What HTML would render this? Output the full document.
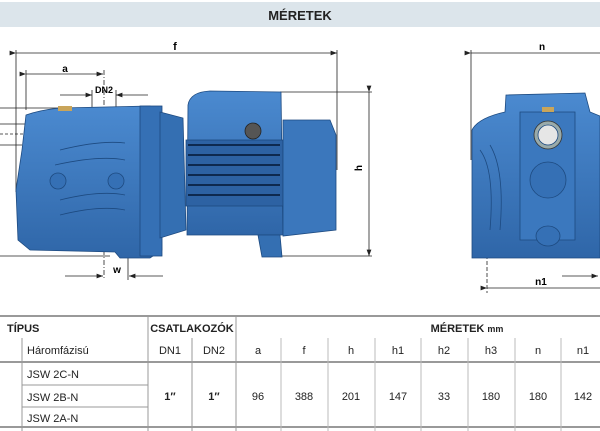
<!DOCTYPE html>
<html><head><meta charset="utf-8"><style>
html,body{margin:0;padding:0;background:#fff}
svg{display:block}
text{font-family:"Liberation Sans",sans-serif}
</style></head><body>
<svg width="600" height="431" viewBox="0 0 600 431" xmlns="http://www.w3.org/2000/svg">
<defs>
<marker id="ar" markerWidth="8" markerHeight="6" refX="8" refY="3" orient="auto"><path d="M0,0 L8,3 L0,6 z" fill="#222"/></marker>
<linearGradient id="bl" x1="0" y1="0" x2="0" y2="1"><stop offset="0" stop-color="#4b8ad0"/><stop offset="1" stop-color="#2f66a8"/></linearGradient>
</defs>
<rect x="0" y="2" width="600" height="25" fill="#dce5eb"/>
<text x="300" y="20" font-size="13" font-weight="bold" text-anchor="middle" fill="#222">MÉRETEK</text>

<g stroke="#222" stroke-width="0.8" fill="none">
<line x1="16" y1="53" x2="337" y2="53" marker-start="url(#ar)" marker-end="url(#ar)"/>
<line x1="16" y1="50" x2="16" y2="192"/>
<line x1="337" y1="50" x2="337" y2="170"/>
<line x1="26" y1="74" x2="103" y2="74" marker-start="url(#ar)" marker-end="url(#ar)"/>
<line x1="26" y1="70" x2="26" y2="110"/>
<line x1="60" y1="95" x2="92" y2="95" marker-end="url(#ar)"/>
<line x1="148" y1="95" x2="116" y2="95" marker-end="url(#ar)"/>
<line x1="92" y1="90" x2="92" y2="108"/>
<line x1="116" y1="90" x2="116" y2="108"/>
<line x1="104" y1="70" x2="104" y2="280" stroke-dasharray="5,2,1,2"/>
<line x1="128" y1="230" x2="128" y2="280"/>
<line x1="65" y1="276" x2="103" y2="276" marker-end="url(#ar)"/>
<line x1="163" y1="276" x2="129" y2="276" marker-end="url(#ar)"/>
<line x1="280" y1="92" x2="372" y2="92"/>
<line x1="280" y1="256" x2="372" y2="256"/>
<line x1="369" y1="92" x2="369" y2="256" marker-start="url(#ar)" marker-end="url(#ar)"/>
<line x1="0" y1="108" x2="60" y2="108"/><line x1="0" y1="124" x2="25" y2="124"/>
<line x1="0" y1="134" x2="55" y2="134" stroke-dasharray="3,2"/><line x1="0" y1="145" x2="22" y2="145"/>
<line x1="0" y1="256" x2="110" y2="256"/>
</g>
<text x="175" y="50" font-size="11" font-weight="bold" text-anchor="middle">f</text>
<text x="65" y="72" font-size="10" font-weight="bold" text-anchor="middle">a</text>
<text x="104" y="93" font-size="9" font-weight="bold" text-anchor="middle">DN2</text>
<text x="117" y="273" font-size="10" font-weight="bold" text-anchor="middle">w</text>
<text x="366" y="172" font-size="10" font-weight="bold" text-anchor="middle" transform="rotate(-90 362 172)">h</text>

<g stroke="#1d4a80" stroke-width="0.8">
<path d="M26,115 Q40,110 60,108 L150,106 L160,110 L162,250 L150,258 L120,258 L115,252 L30,250 L18,240 L16,190 L22,150 Z" fill="url(#bl)"/>
<rect x="140" y="106" width="22" height="150" fill="#3570b5"/>
<path d="M160,112 L183,118 L186,230 L160,238 Z" fill="#346fb2"/>
<path d="M188,105 Q190,92 210,91 L281,92 L283,235 L187,235 Z" fill="url(#bl)"/>
<rect x="186" y="140" width="97" height="66" fill="#2d62a3"/>
<g stroke="#0e2a50" stroke-width="2"><line x1="188" y1="145" x2="280" y2="145"/><line x1="188" y1="155" x2="280" y2="155"/><line x1="188" y1="165" x2="280" y2="165"/><line x1="188" y1="175" x2="280" y2="175"/><line x1="188" y1="185" x2="280" y2="185"/><line x1="188" y1="195" x2="280" y2="195"/></g>
<path d="M283,120 L330,120 L336,135 L336,230 L283,236 Z" fill="#3b77bc"/>
<path d="M258,235 L280,235 L282,257 L262,257 Z" fill="#346fb2"/>
<circle cx="253" cy="131" r="8" fill="#555" stroke="#222"/>
<circle cx="58" cy="181" r="8" fill="#3570b5"/><circle cx="116" cy="181" r="8" fill="#3570b5"/>
<path d="M60,150 Q100,140 125,143 M55,165 Q100,155 125,160 M60,200 Q100,190 125,195 M60,215 Q100,205 125,210" fill="none" stroke="#1d4a80"/>
</g>
<rect x="58" y="106" width="14" height="5" fill="#c9a55a"/>

<g stroke="#222" stroke-width="0.8" fill="none">
<line x1="471" y1="53" x2="600" y2="53" marker-start="url(#ar)"/>
<line x1="471" y1="50" x2="471" y2="160"/>
<line x1="487" y1="255" x2="487" y2="293" stroke-dasharray="4,2"/>
<line x1="487" y1="288" x2="600" y2="288" marker-start="url(#ar)"/>
<line x1="562" y1="276" x2="598" y2="276" marker-end="url(#ar)"/>
</g>
<text x="542" y="50" font-size="10" font-weight="bold" text-anchor="middle">n</text>
<text x="541" y="285" font-size="10" font-weight="bold" text-anchor="middle">n1</text>
<g stroke="#1d4a80" stroke-width="0.8">
<path d="M506,95 L585,93 L590,112 L600,116 L600,258 L472,258 L472,130 Q478,118 505,112 Z" fill="url(#bl)"/>
<path d="M520,112 L575,112 L575,240 L520,240 Z" fill="#3b78be"/>
<circle cx="548" cy="135" r="14" fill="#9aa" stroke="#333"/>
<circle cx="548" cy="135" r="10" fill="#e6e6e6"/>
<circle cx="548" cy="180" r="18" fill="#3570b5"/>
<ellipse cx="548" cy="236" rx="12" ry="10" fill="#3570b5"/>
<path d="M480,150 Q495,170 490,230 M490,145 Q505,170 500,230" fill="none"/>
</g>
<rect x="542" y="107" width="12" height="5" fill="#c9a55a"/>

<g stroke="#999" fill="none">
<line x1="0" y1="316" x2="600" y2="316" stroke-width="2"/>
<line x1="0" y1="362" x2="600" y2="362" stroke-width="2"/>
<line x1="0" y1="427" x2="600" y2="427" stroke-width="2"/>
<line x1="22" y1="385" x2="148" y2="385"/><line x1="22" y1="407" x2="148" y2="407"/>
<line x1="22" y1="338" x2="22" y2="431"/>
<line x1="148" y1="316" x2="148" y2="431"/>
<line x1="192" y1="338" x2="192" y2="431"/>
<line x1="236" y1="316" x2="236" y2="431"/>
<g stroke="#bbb"><line x1="281" y1="338" x2="281" y2="431"/><line x1="328" y1="338" x2="328" y2="431"/><line x1="375" y1="338" x2="375" y2="431"/><line x1="421" y1="338" x2="421" y2="431"/><line x1="468" y1="338" x2="468" y2="431"/><line x1="515" y1="338" x2="515" y2="431"/><line x1="561" y1="338" x2="561" y2="431"/></g>
</g>
<g font-size="11" fill="#222">
<text x="7" y="332" font-weight="bold">TÍPUS</text>
<text x="192" y="332" font-weight="bold" text-anchor="middle">CSATLAKOZÓK</text>
<text x="467" y="332" font-weight="bold" text-anchor="middle">MÉRETEK <tspan font-size="9">mm</tspan></text>
<text x="27" y="354">Háromfázisú</text>
<text x="27" y="378">JSW 2C-N</text>
<text x="27" y="401">JSW 2B-N</text>
<text x="27" y="422">JSW 2A-N</text>
<g text-anchor="middle">
<text x="170" y="354">DN1</text><text x="214" y="354">DN2</text>
<text x="258" y="354">a</text><text x="304" y="354">f</text><text x="351" y="354">h</text><text x="398" y="354">h1</text><text x="444" y="354">h2</text><text x="491" y="354">h3</text><text x="538" y="354">n</text><text x="583" y="354">n1</text>
<text x="170" y="400" font-weight="bold">1″</text><text x="214" y="400" font-weight="bold">1″</text>
<text x="258" y="400">96</text><text x="304" y="400">388</text><text x="351" y="400">201</text><text x="398" y="400">147</text><text x="444" y="400">33</text><text x="491" y="400">180</text><text x="538" y="400">180</text><text x="583" y="400">142</text>
</g></g>
</svg>
</body></html>
